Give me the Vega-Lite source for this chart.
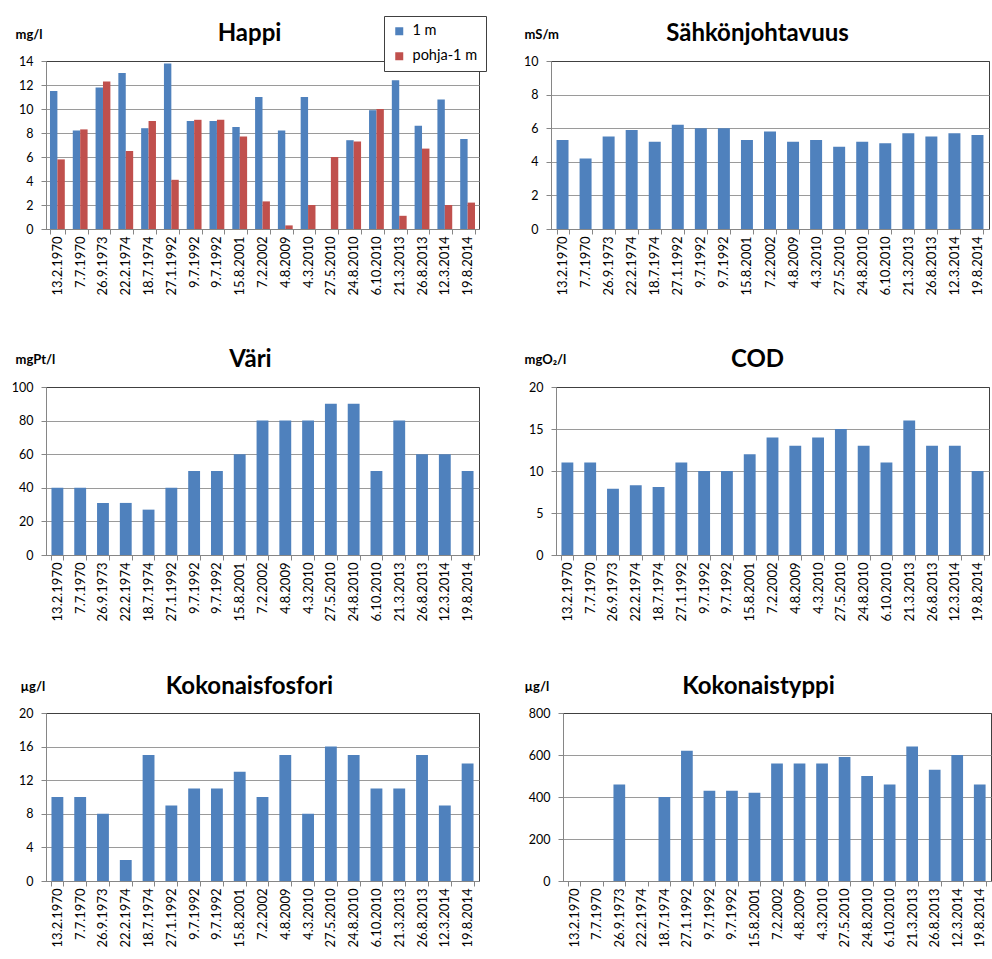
{
  "$schema": "https://vega.github.io/schema/vega-lite/v6.json",
  "background": "white",
  "padding": {"left": 10, "top": 15, "right": 0, "bottom": 0},
  "bounds": "flush",
  "spacing": 326,
  "config": {
    "font": "Lato",
    "view": {"stroke": "#404040", "strokeWidth": 1},
    "axis": {
      "labelFont": "Lato",
      "labelColor": "#000000",
      "titleFont": "Lato",
      "titleColor": "#000000",
      "domainColor": "#868686",
      "tickColor": "#868686",
      "gridColor": "#9a9a9a",
      "tickSize": 5
    },
    "axisX": {
      "labelAngle": -90,
      "labelFontSize": 13,
      "labelPadding": 2,
      "tickBand": "extent",
      "grid": false,
      "titleFontSize": 24,
      "titleFontWeight": "bold",
      "titleAlign": "center",
      "titleBaseline": "alphabetic",
      "titleAngle": 0,
      "labelExpr": "trim(datum.label)"
    },
    "axisY": {
      "labelFontSize": 12.5,
      "labelPadding": 8,
      "grid": true,
      "titleAngle": 0,
      "titleAlign": "left",
      "titleBaseline": "alphabetic",
      "titleFontSize": 13,
      "titleFontWeight": "bold"
    },
    "bar": {"color": "#4F81BD", "invalid": "break-paths-show-domains"}
  },
  "datasets": {
    "w": [
      {"i": 1, "d": "13.2.1970", "1 m": 11.5, "pohja-1 m": 5.8, "s": 5.3, "v": 40, "c": 11, "p": 10, "n": null},
      {"i": 2, "d": "7.7.1970", "1 m": 8.2, "pohja-1 m": 8.3, "s": 4.2, "v": 40, "c": 11, "p": 10, "n": null},
      {"i": 3, "d": "26.9.1973", "1 m": 11.8, "pohja-1 m": 12.3, "s": 5.5, "v": 31, "c": 7.9, "p": 8, "n": 460},
      {"i": 4, "d": "22.2.1974", "1 m": 13.0, "pohja-1 m": 6.5, "s": 5.9, "v": 31, "c": 8.3, "p": 2.5, "n": null},
      {"i": 5, "d": "18.7.1974", "1 m": 8.4, "pohja-1 m": 9.0, "s": 5.2, "v": 27, "c": 8.1, "p": 15, "n": 400},
      {"i": 6, "d": "27.1.1992", "1 m": 13.8, "pohja-1 m": 4.1, "s": 6.2, "v": 40, "c": 11, "p": 9, "n": 620},
      {"i": 7, "d": "9.7.1992", "1 m": 9.0, "pohja-1 m": 9.1, "s": 6.0, "v": 50, "c": 10, "p": 11, "n": 430},
      {"i": 8, "d": "9.7.1992 ", "1 m": 9.0, "pohja-1 m": 9.1, "s": 6.0, "v": 50, "c": 10, "p": 11, "n": 430},
      {"i": 9, "d": "15.8.2001", "1 m": 8.5, "pohja-1 m": 7.7, "s": 5.3, "v": 60, "c": 12, "p": 13, "n": 420},
      {"i": 10, "d": "7.2.2002", "1 m": 11.0, "pohja-1 m": 2.3, "s": 5.8, "v": 80, "c": 14, "p": 10, "n": 560},
      {"i": 11, "d": "4.8.2009", "1 m": 8.2, "pohja-1 m": 0.3, "s": 5.2, "v": 80, "c": 13, "p": 15, "n": 560},
      {"i": 12, "d": "4.3.2010", "1 m": 11.0, "pohja-1 m": 2.0, "s": 5.3, "v": 80, "c": 14, "p": 8, "n": 560},
      {"i": 13, "d": "27.5.2010", "1 m": null, "pohja-1 m": 6.0, "s": 4.9, "v": 90, "c": 15, "p": 16, "n": 590},
      {"i": 14, "d": "24.8.2010", "1 m": 7.4, "pohja-1 m": 7.3, "s": 5.2, "v": 90, "c": 13, "p": 15, "n": 500},
      {"i": 15, "d": "6.10.2010", "1 m": 9.9, "pohja-1 m": 10.0, "s": 5.1, "v": 50, "c": 11, "p": 11, "n": 460},
      {"i": 16, "d": "21.3.2013", "1 m": 12.4, "pohja-1 m": 1.1, "s": 5.7, "v": 80, "c": 16, "p": 11, "n": 640},
      {"i": 17, "d": "26.8.2013", "1 m": 8.6, "pohja-1 m": 6.7, "s": 5.5, "v": 60, "c": 13, "p": 15, "n": 530},
      {"i": 18, "d": "12.3.2014", "1 m": 10.8, "pohja-1 m": 2.0, "s": 5.7, "v": 60, "c": 13, "p": 9, "n": 600},
      {"i": 19, "d": "19.8.2014", "1 m": 7.5, "pohja-1 m": 2.2, "s": 5.6, "v": 50, "c": 10, "p": 14, "n": 460}
    ]
  },
  "vconcat": [
    {
      "bounds": "flush",
      "spacing": 72,
      "hconcat": [
        {
          "width": 433, "height": 168,
          "data": {"name": "w"},
          "transform": [{"fold": ["1 m", "pohja-1 m"], "as": ["syvyys", "happi"]}],
          "mark": {"type": "bar"},
          "encoding": {
            "x": {"field": "d", "type": "nominal", "sort": null,
                  "scale": {"paddingInner": 0.35, "paddingOuter": 0.175},
                  "axis": {"title": "Happi", "titleX": 203, "titleY": -189}},
            "xOffset": {"field": "syvyys", "type": "nominal", "sort": ["1 m", "pohja-1 m"]},
            "y": {"field": "happi", "type": "quantitative",
                  "scale": {"domain": [0, 14], "nice": false},
                  "axis": {"values": [0, 2, 4, 6, 8, 10, 12, 14], "title": "mg/l", "titleX": -31, "titleY": -23,
                           "gridColor": {"condition": {"test": "datum.value >= 14", "value": "#404040"}, "value": "#9a9a9a"}}},
            "color": {"field": "syvyys", "type": "nominal",
                      "scale": {"domain": ["1 m", "pohja-1 m"], "range": ["#4F81BD", "#C0504D"]},
                      "legend": {"title": null, "orient": "none", "legendX": 338, "legendY": -45,
                                 "direction": "vertical", "symbolType": "square", "symbolSize": 64,
                                 "symbolStrokeWidth": 0, "symbolOpacity": 1, "labelFontSize": 14.5, "labelColor": "#000000",
                                 "labelOffset": 6, "rowPadding": 10, "padding": 8,
                                 "strokeColor": "#404040", "fillColor": "#ffffff"}}
          }
        },
        {
          "width": 438, "height": 168,
          "data": {"name": "w"},
          "mark": {"type": "bar"},
          "encoding": {
            "x": {"field": "d", "type": "nominal", "sort": null,
                  "scale": {"paddingInner": 0.48, "paddingOuter": 0.24},
                  "axis": {"title": "Sähkönjohtavuus", "titleX": 206, "titleY": -189}},
            "y": {"field": "s", "type": "quantitative",
                  "scale": {"domain": [0, 10], "nice": false},
                  "axis": {"values": [0, 2, 4, 6, 8, 10], "title": "mS/m", "titleX": -27, "titleY": -23,
                           "gridColor": {"condition": {"test": "datum.value >= 10", "value": "#404040"}, "value": "#9a9a9a"}}}
          }
        }
      ]
    },
    {
      "bounds": "flush",
      "spacing": 77,
      "hconcat": [
        {
          "width": 433, "height": 168,
          "data": {"name": "w"},
          "mark": {"type": "bar"},
          "encoding": {
            "x": {"field": "d", "type": "nominal", "sort": null,
                  "scale": {"paddingInner": 0.48, "paddingOuter": 0.24},
                  "axis": {"title": "Väri", "titleX": 204, "titleY": -189}},
            "y": {"field": "v", "type": "quantitative",
                  "scale": {"domain": [0, 100], "nice": false},
                  "axis": {"values": [0, 20, 40, 60, 80, 100], "title": "mgPt/l", "titleX": -31, "titleY": -24,
                           "gridColor": {"condition": {"test": "datum.value >= 100", "value": "#404040"}, "value": "#9a9a9a"}}}
          }
        },
        {
          "width": 433, "height": 168,
          "data": {"name": "w"},
          "mark": {"type": "bar"},
          "encoding": {
            "x": {"field": "d", "type": "nominal", "sort": null,
                  "scale": {"paddingInner": 0.48, "paddingOuter": 0.24},
                  "axis": {"title": "COD", "titleX": 201, "titleY": -189}},
            "y": {"field": "c", "type": "quantitative",
                  "scale": {"domain": [0, 20], "nice": false},
                  "axis": {"values": [0, 5, 10, 15, 20], "title": "mgO₂/l", "titleX": -32, "titleY": -24,
                           "gridColor": {"condition": {"test": "datum.value >= 20", "value": "#404040"}, "value": "#9a9a9a"}}}
          }
        }
      ]
    },
    {
      "bounds": "flush",
      "spacing": 84,
      "hconcat": [
        {
          "width": 433, "height": 168,
          "data": {"name": "w"},
          "mark": {"type": "bar"},
          "encoding": {
            "x": {"field": "d", "type": "nominal", "sort": null,
                  "scale": {"paddingInner": 0.48, "paddingOuter": 0.24},
                  "axis": {"title": "Kokonaisfosfori", "titleX": 203, "titleY": -188}},
            "y": {"field": "p", "type": "quantitative",
                  "scale": {"domain": [0, 20], "nice": false},
                  "axis": {"values": [0, 4, 8, 12, 16, 20], "title": "µg/l", "titleX": -26, "titleY": -23,
                           "gridColor": {"condition": {"test": "datum.value >= 20", "value": "#404040"}, "value": "#9a9a9a"}}}
          }
        },
        {
          "width": 428, "height": 168,
          "data": {"name": "w"},
          "mark": {"type": "bar"},
          "encoding": {
            "x": {"field": "d", "type": "nominal", "sort": null,
                  "scale": {"paddingInner": 0.48, "paddingOuter": 0.24},
                  "axis": {"title": "Kokonaistyppi", "titleX": 195, "titleY": -188}},
            "y": {"field": "n", "type": "quantitative",
                  "scale": {"domain": [0, 800], "nice": false},
                  "axis": {"values": [0, 200, 400, 600, 800], "title": "µg/l", "titleX": -39, "titleY": -23,
                           "gridColor": {"condition": {"test": "datum.value >= 800", "value": "#404040"}, "value": "#9a9a9a"}}}
          }
        }
      ]
    }
  ]
}
